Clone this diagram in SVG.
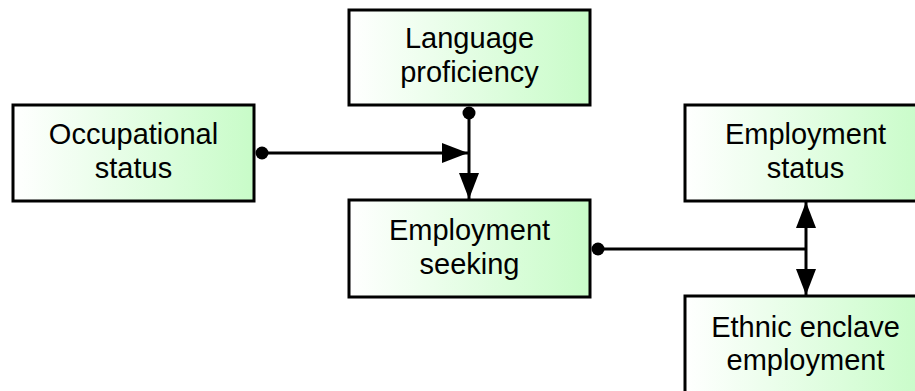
<svg xmlns="http://www.w3.org/2000/svg" width="915" height="391" viewBox="0 0 915 391">
<defs>
<linearGradient id="g" x1="0" y1="0" x2="1" y2="0">
<stop offset="0" stop-color="#ffffff"/>
<stop offset="1" stop-color="#c8fcc8"/>
</linearGradient>
<marker id="arr" viewBox="0 0 26 20" refX="26" refY="10" markerWidth="26" markerHeight="20" markerUnits="userSpaceOnUse" orient="auto">
<path d="M0,0 L26,10 L0,20 Z" fill="#000"/>
</marker>
<marker id="arrs" viewBox="0 0 26 20" refX="0" refY="10" markerWidth="26" markerHeight="20" markerUnits="userSpaceOnUse" orient="auto">
<path d="M26,0 L0,10 L26,20 Z" fill="#000"/>
</marker>
</defs>
<style>
.box{fill:url(#g);stroke:#000;stroke-width:3}
.t{font-family:"Liberation Sans",Arial,sans-serif;font-size:29px;fill:#000;text-anchor:middle}
.c{fill:none;stroke:#000;stroke-width:3}
.dot{fill:#000}
</style>
<rect width="915" height="391" fill="#fff"/>
<g id="language">
<rect class="box" x="349" y="10" width="241" height="95"/>
<text class="t" x="469.5" y="48">Language</text>
<text class="t" x="469.5" y="82">proficiency</text>
</g>
<g id="occupational">
<rect class="box" x="13" y="105" width="241" height="96"/>
<text class="t" x="133.5" y="144">Occupational</text>
<text class="t" x="133.5" y="178">status</text>
</g>
<g id="seeking">
<rect class="box" x="349" y="200" width="241" height="97"/>
<text class="t" x="469.5" y="240">Employment</text>
<text class="t" x="469.5" y="274">seeking</text>
</g>
<g id="status">
<rect class="box" x="685" y="105" width="241" height="96"/>
<text class="t" x="805.5" y="144">Employment</text>
<text class="t" x="805.5" y="178">status</text>
</g>
<g id="enclave">
<rect class="box" x="685" y="296" width="241" height="100"/>
<text class="t" x="805.5" y="337">Ethnic enclave</text>
<text class="t" x="805.5" y="370">employment</text>
</g>
<g id="connectors">
<circle class="dot" cx="262" cy="153" r="6.5"/>
<path class="c" d="M262,153 H468" marker-end="url(#arr)"/>
<circle class="dot" cx="469" cy="113" r="6.5"/>
<path class="c" d="M469,113 V199" marker-end="url(#arr)"/>
<circle class="dot" cx="598" cy="249" r="6.5"/>
<path class="c" d="M598,249 H806"/>
<path class="c" d="M806,202 V295" marker-start="url(#arrs)" marker-end="url(#arr)"/>
</g>
</svg>
